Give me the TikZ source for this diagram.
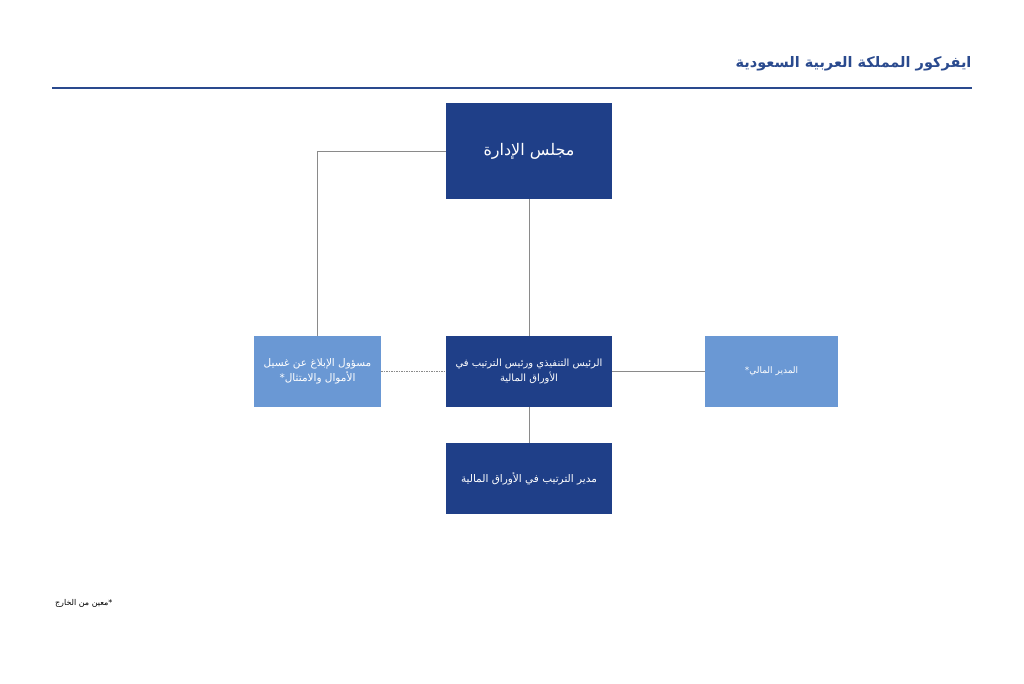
\documentclass[tikz,border=0pt]{standalone}
\usepackage{fontspec}
\newfontfamily\arabicfont[Script=Arabic]{DejaVu Sans}
\TeXXeTstate=1
\definecolor{darkbox}{HTML}{1F3F88}
\definecolor{lightbox}{HTML}{6A98D4}
\definecolor{titleblue}{HTML}{2A4A8E}
\definecolor{connector}{HTML}{8A8A8A}
\tikzset{
  darknode/.style={fill=darkbox, draw=none, text=white, inner sep=0pt, align=center, font=\arabicfont\fontsize{10.5}{15}\selectfont},
  lightnode/.style={fill=lightbox, draw=none, text=white, inner sep=0pt, align=center, font=\arabicfont\fontsize{10.5}{15}\selectfont},
  conn/.style={draw=connector, line width=0.7pt},
}
\begin{document}
\begin{tikzpicture}[x=1pt,y=-1pt]
\useasboundingbox (0,0) rectangle (1024,683);
% title
\node[anchor=east, text=titleblue, font=\arabicfont\bfseries\fontsize{14.5}{16}\selectfont] (title) at (975,64) {\beginR ايفركور المملكة العربية السعودية\endR};
\coordinate (rl) at (52,88);
\coordinate (rr) at (972,88);
\draw[titleblue, line width=1.3pt] (rl) -- (rr);
% boxes
\node[darknode, minimum width=166pt, minimum height=96pt, font=\arabicfont\fontsize{16}{18}\selectfont] (board) at (529,151) {\beginR مجلس الإدارة\endR};
\node[darknode, minimum width=166pt, minimum height=71pt, font=\arabicfont\fontsize{10}{15}\selectfont] (ceo) at (529,371.5) {\beginR الرئيس التنفيذي ورئيس الترتيب في\endR\\\beginR الأوراق المالية\endR};
\node[lightnode, minimum width=127pt, minimum height=71pt] (mlro) at (317.5,371.5) {\beginR مسؤول الإبلاغ عن غسيل\endR\\\beginR الأموال والامتثال*\endR};
\node[lightnode, minimum width=133pt, minimum height=71pt, font=\arabicfont\fontsize{9}{11}\selectfont] (cfo) at (771.5,371.5) {\beginR المدير المالي*\endR};
\node[darknode, minimum width=166pt, minimum height=71pt] (mgr) at (529,478.5) {\beginR مدير الترتيب في الأوراق المالية\endR};
% connectors
\draw[conn] (board.west) -| (mlro.north);
\draw[conn] (board.south) -- (ceo.north);
\draw[conn, dashed, dash pattern=on 1.5pt off 1pt] (mlro.east) -- (ceo.west);
\draw[conn] (ceo.east) -- (cfo.west);
\draw[conn] (ceo.south) -- (mgr.north);
% footnote
\node[anchor=east, font=\arabicfont\fontsize{8}{9}\selectfont] (note) at (116,603) {\beginR *معين من الخارج\endR};
\end{tikzpicture}
\end{document}
